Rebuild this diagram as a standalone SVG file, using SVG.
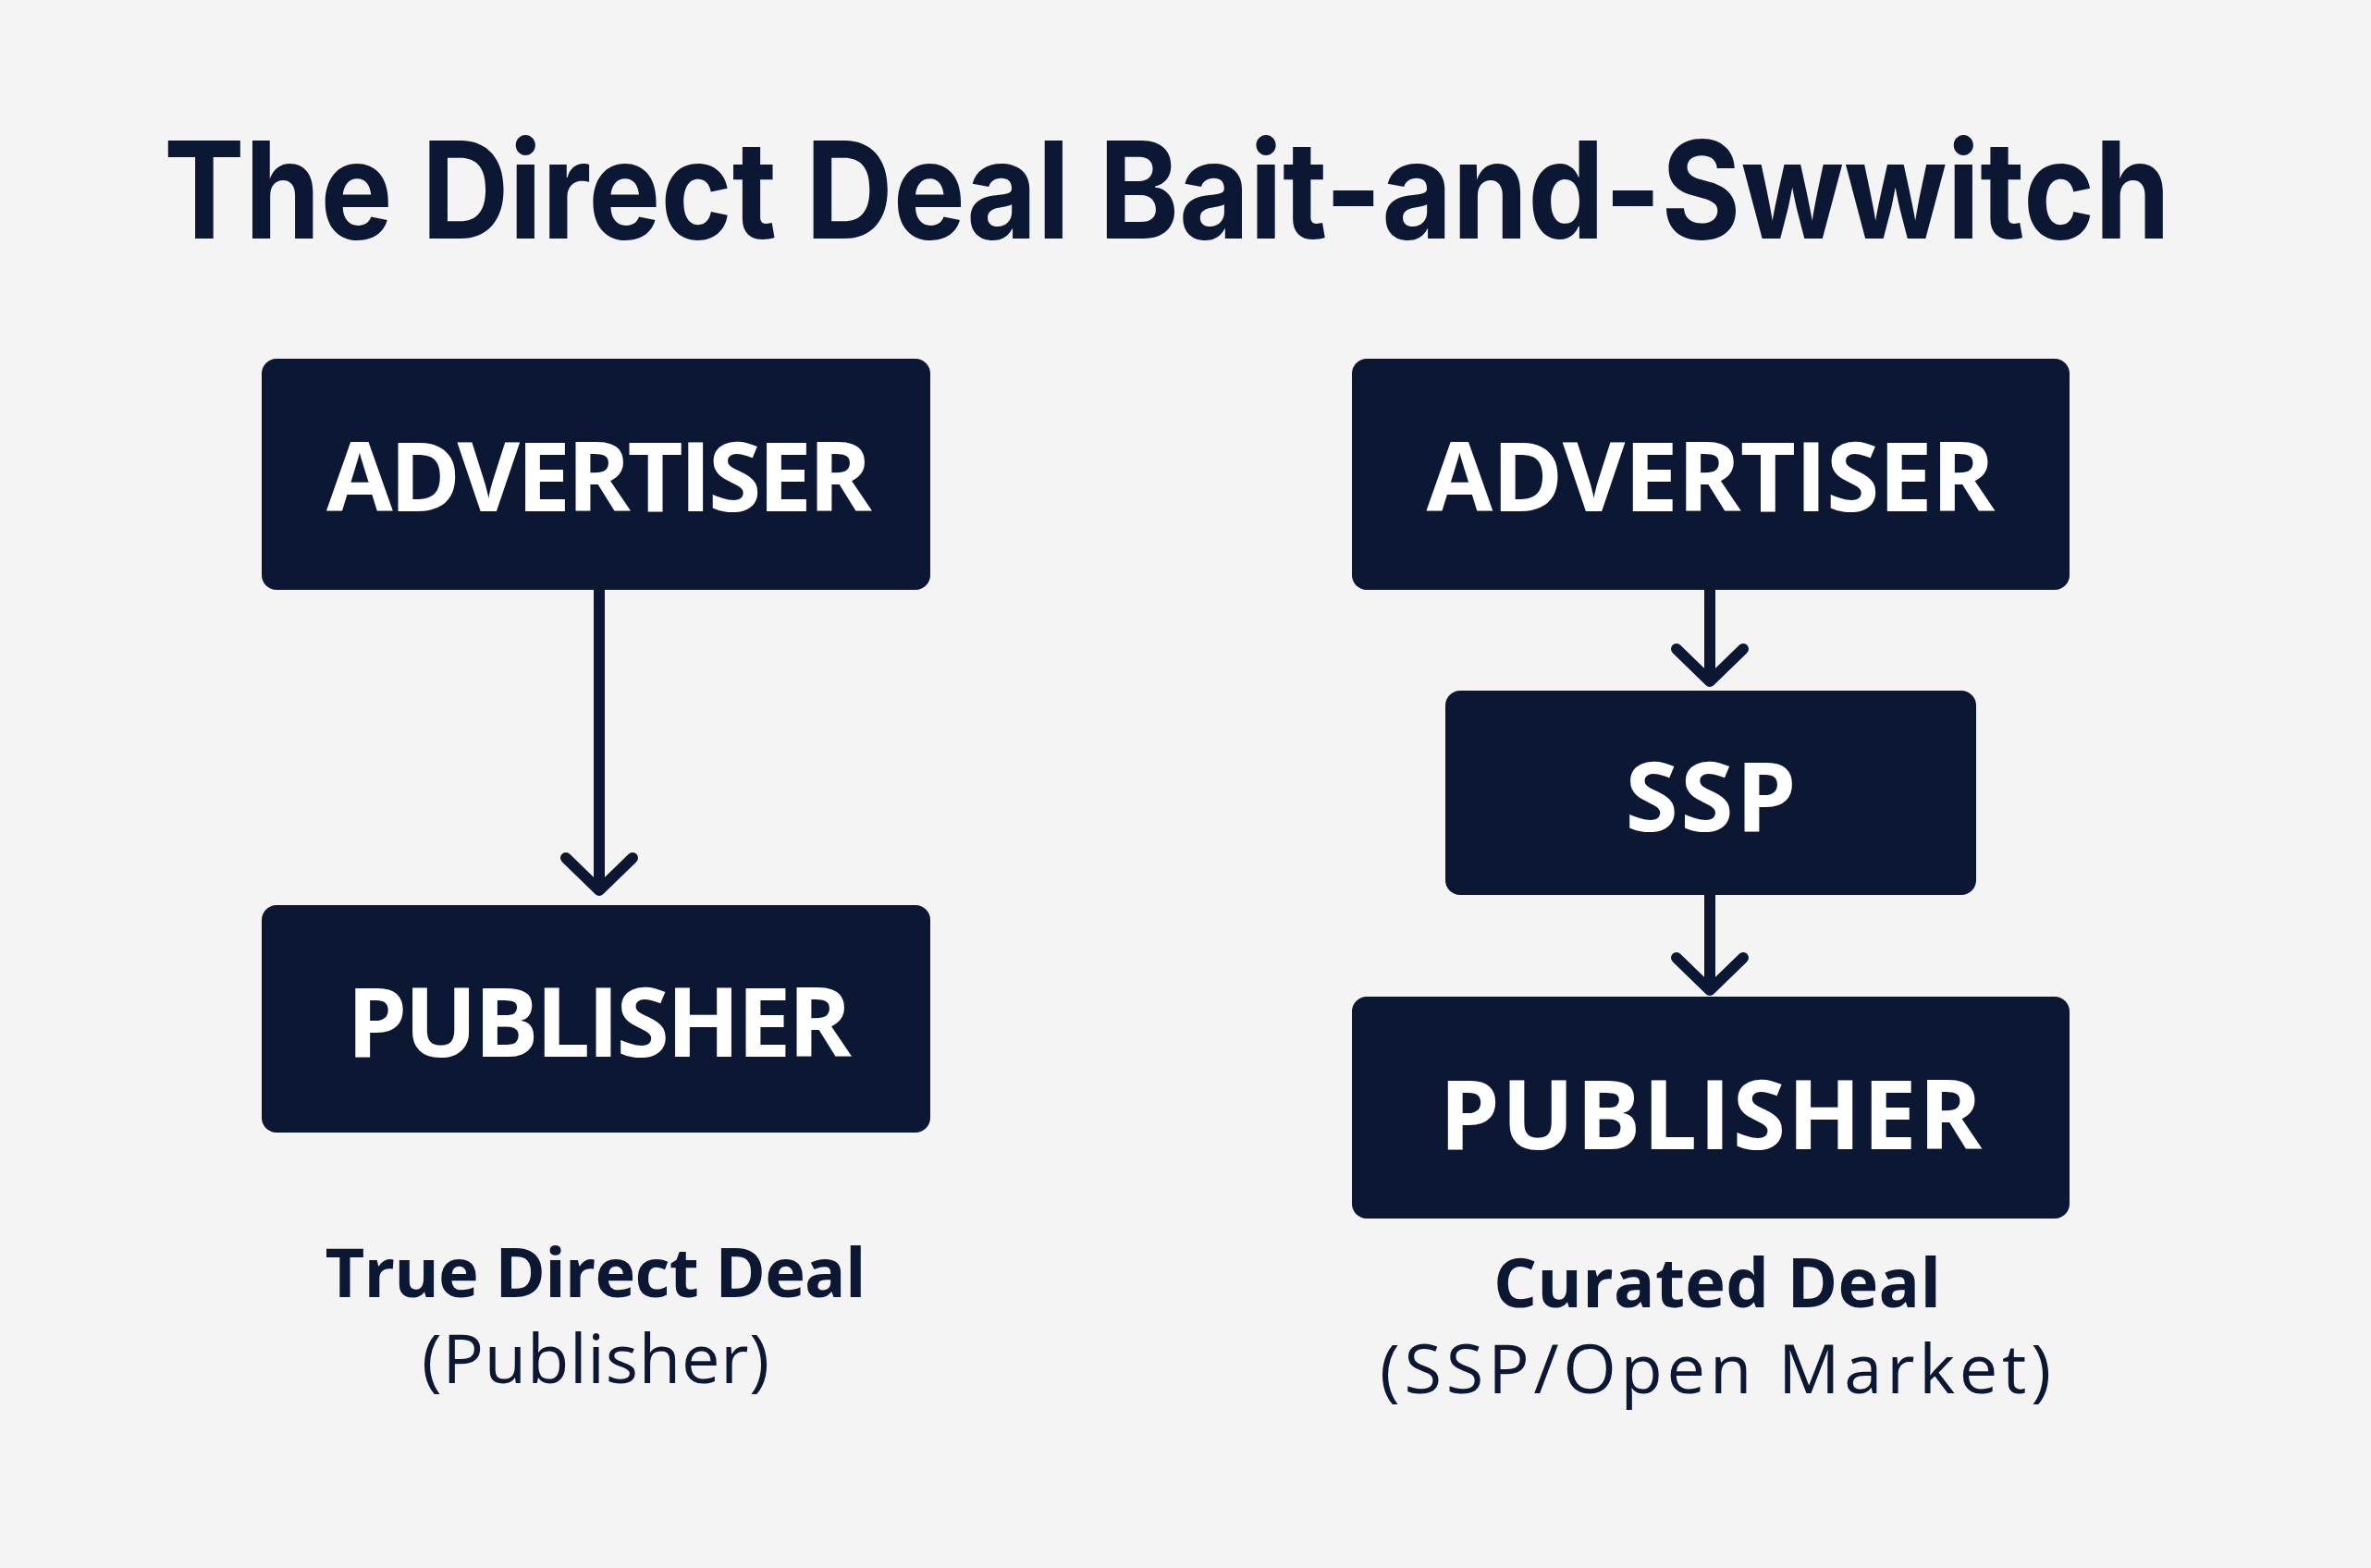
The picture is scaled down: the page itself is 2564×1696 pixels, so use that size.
<svg xmlns="http://www.w3.org/2000/svg" width="2564" height="1696" viewBox="0 0 2564 1696">
<style>
.box{fill:#0b1733}
.bt{font-family:"Open Sans","Liberation Sans",sans-serif;font-weight:700;fill:#fff;font-size:104px;text-anchor:middle}
.lb{font-family:"Open Sans","Liberation Sans",sans-serif;fill:#0b1733;text-anchor:middle;font-size:74px}
.c{stroke:#0b1733;stroke-width:12;fill:none;stroke-linecap:round;stroke-linejoin:round}
</style>
<rect width="2564" height="1696" fill="#f4f4f4"/>
<text x="1262" y="258" font-family="Inter,'Liberation Sans',sans-serif" font-weight="700" font-size="146" fill="#0b1733" text-anchor="middle" textLength="2170" lengthAdjust="spacingAndGlyphs">The Direct Deal Bait-and-Swwitch</text>
<g id="adv1"><rect class="box" x="283" y="388" width="723" height="250" rx="16"/><text class="bt" x="648" y="553" textLength="590">ADVERTISER</text></g>
<g id="pub1"><rect class="box" x="283" y="979" width="723" height="246" rx="16"/><text class="bt" x="648" y="1143" textLength="546">PUBLISHER</text></g>
<g id="adv2"><rect class="box" x="1462" y="388" width="776" height="250" rx="16"/><text class="bt" x="1850" y="553" textLength="615">ADVERTISER</text></g>
<g id="ssp"><rect class="box" x="1563" y="747" width="574" height="221" rx="16"/><text class="bt" x="1850" y="899" textLength="185">SSP</text></g>
<g id="pub2"><rect class="box" x="1462" y="1078" width="776" height="240" rx="16"/><text class="bt" x="1850" y="1243" textLength="587">PUBLISHER</text></g>
<g id="connectors">
<path class="c" d="M648 638V960M612 928L648 963L684 928"/>
<path class="c" d="M1849 638V734M1813 702L1849 737L1885 702"/>
<path class="c" d="M1849 968V1068M1813 1036L1849 1071L1885 1036"/>
</g>
<g id="labels">
<text class="lb" x="644" y="1403" font-weight="700" textLength="585">True Direct Deal</text>
<text class="lb" x="644" y="1496" textLength="376">(Publisher)</text>
<text class="lb" x="1857" y="1414" font-weight="700" textLength="484">Curated Deal</text>
<text class="lb" x="1855" y="1507" textLength="726">(SSP/Open Market)</text>
</g>
</svg>
